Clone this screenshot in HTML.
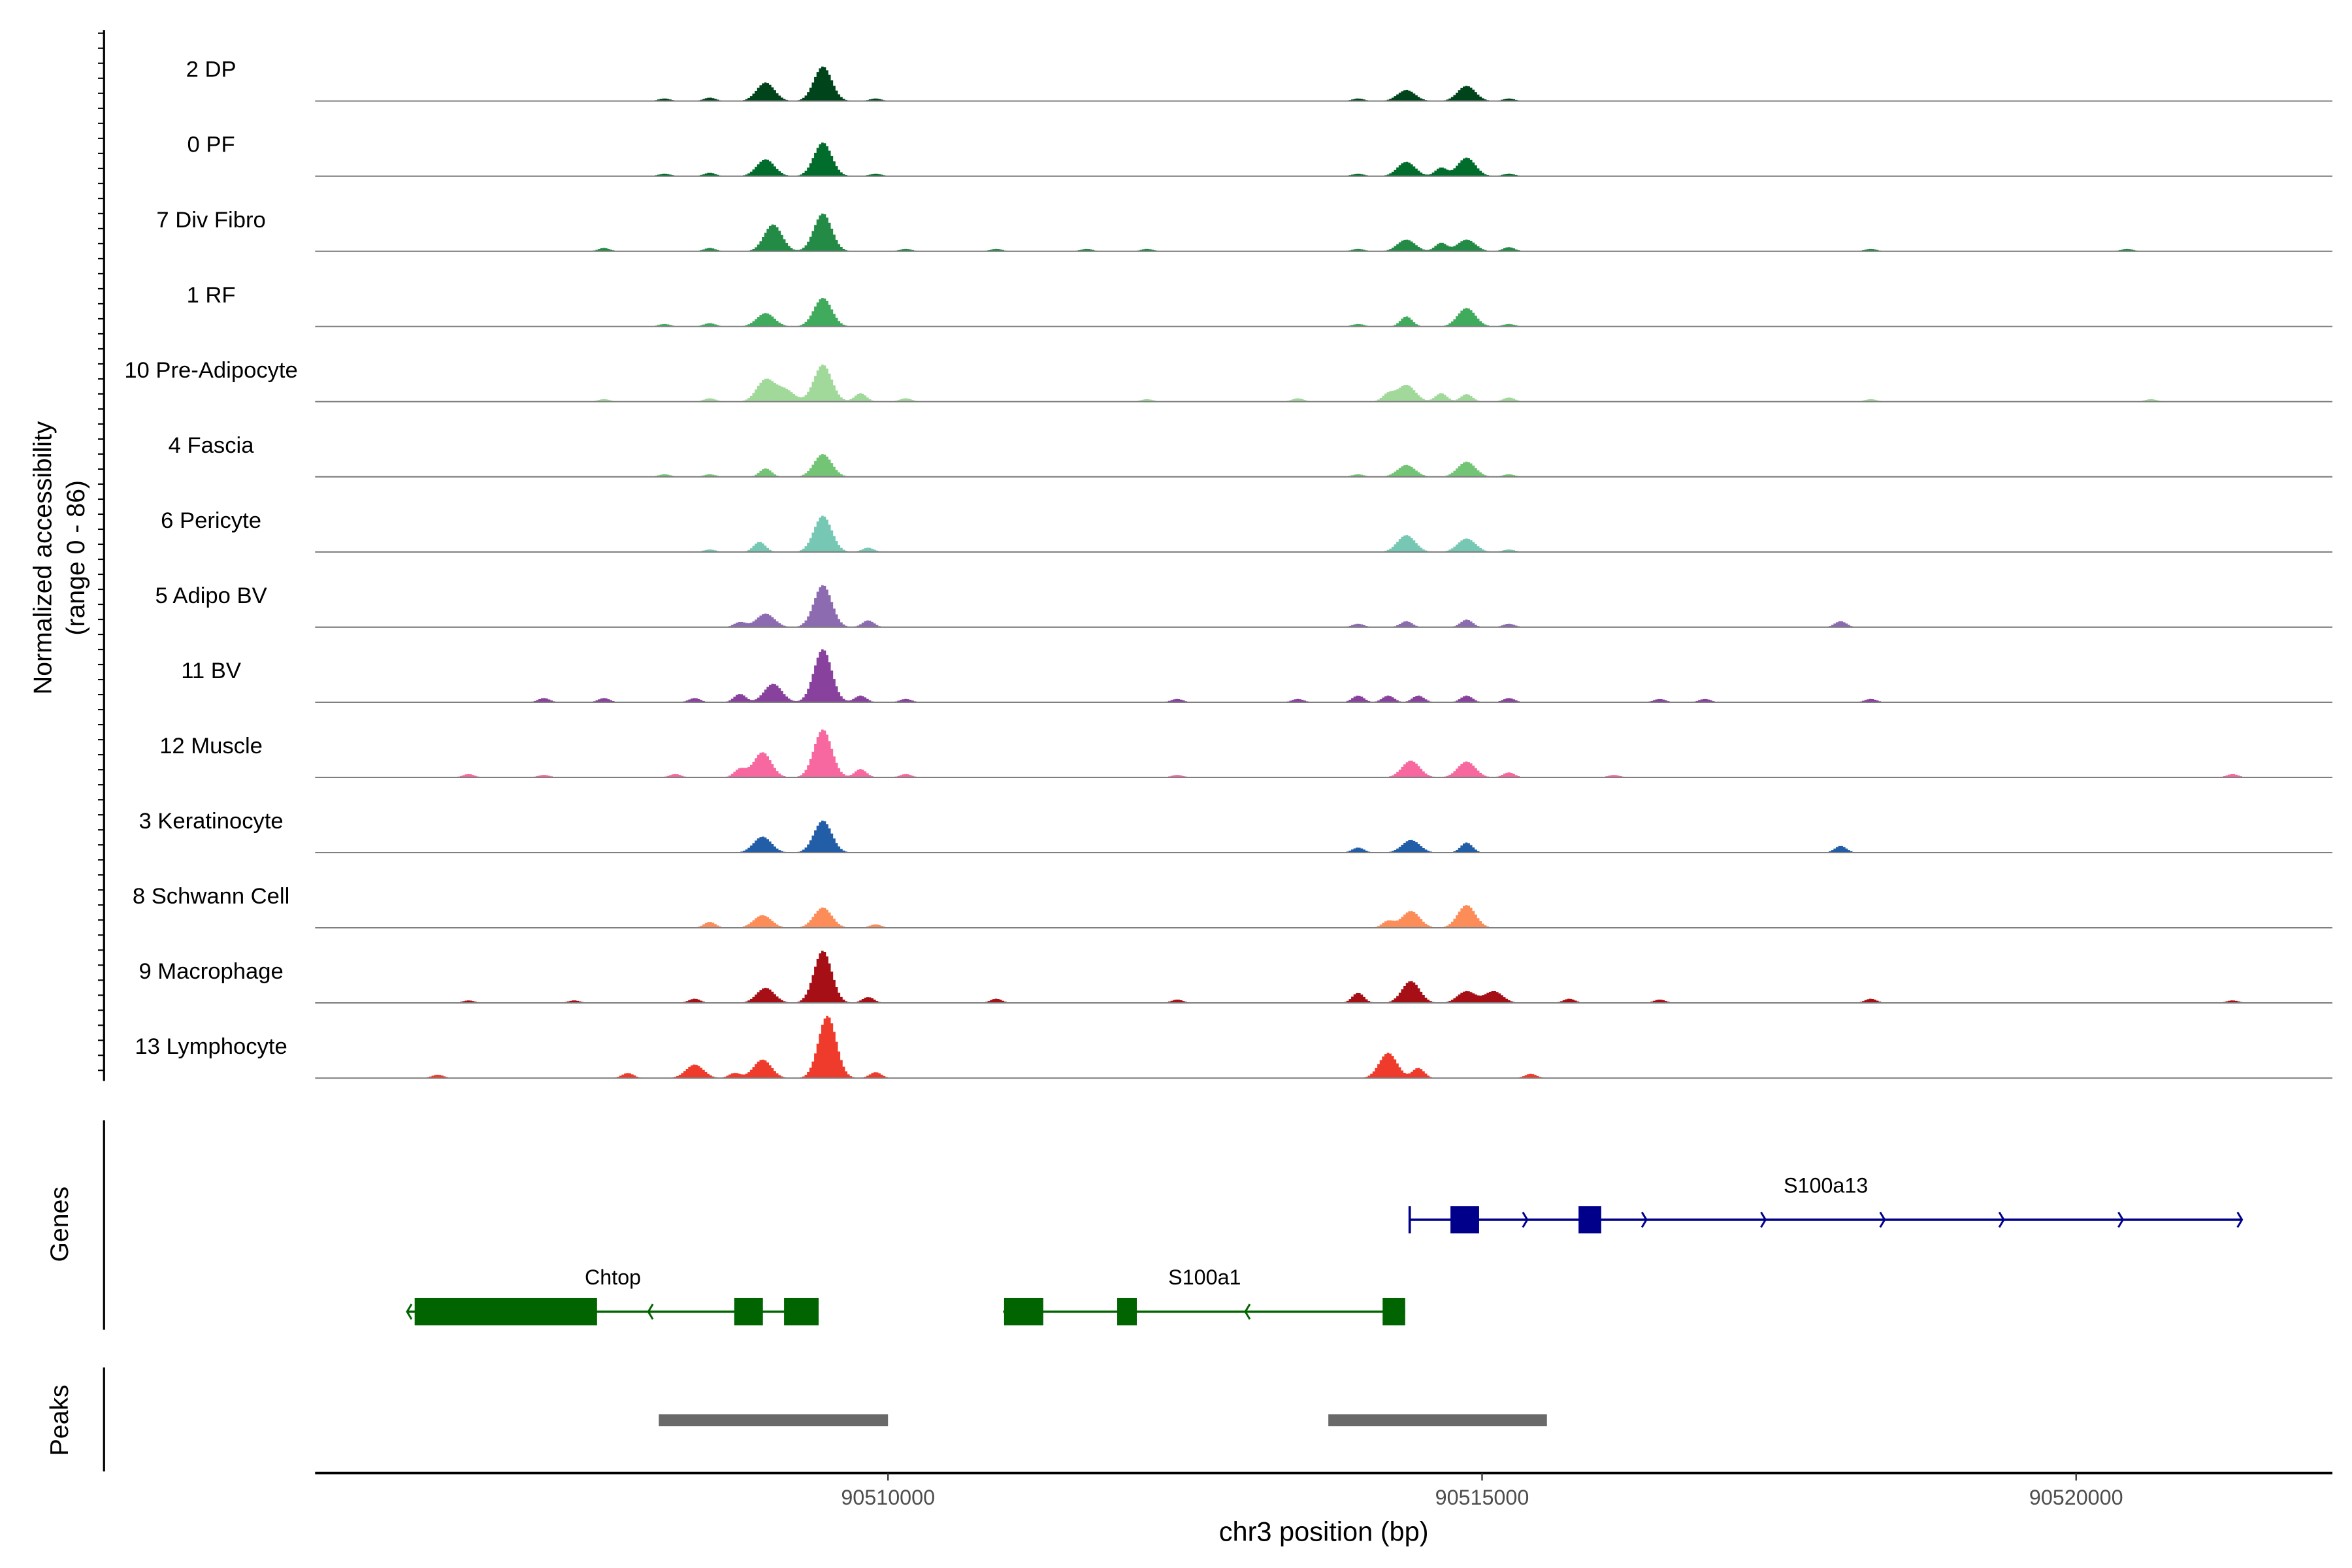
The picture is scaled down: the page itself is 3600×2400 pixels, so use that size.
<!DOCTYPE html>
<html><head><meta charset="utf-8"><style>html,body{margin:0;padding:0;background:#fff}svg{display:block}text{font-family:"Liberation Sans",sans-serif}</style></head>
<body>
<svg id="chart" xmlns="http://www.w3.org/2000/svg" width="3600" height="2400" viewBox="0 0 1560 1040">
<rect width="1560" height="1040" fill="#fff"/>
<g id="tracks"></g>
<g id="genes"></g>
<g id="peaks"></g>
<g id="axes"></g>
</svg>
<script>
const trackNames=["2 DP","0 PF","7 Div Fibro","1 RF","10 Pre-Adipocyte","4 Fascia","6 Pericyte","5 Adipo BV","11 BV","12 Muscle","3 Keratinocyte","8 Schwann Cell","9 Macrophage","13 Lymphocyte"];
const trackColors=["#00441b","#006d2c","#238b45","#41ab5d","#a1d99b","#74c476","#76c8b4","#8c6bb1","#88419d","#f768a1","#225ea8","#fc8d59","#a50f15","#ef3b2c"];
const pos2DP=[90508109,90508490,90508960,90509442,90509886,90513947,90514353,90514860,90515216];
const val2DP=[3,4,22,41,3,3,13,18,3];
const pos0PF=[90508109,90508490,90508960,90509442,90509886,90513947,90514353,90514645,90514860,90515216];
const val0PF=[3,4,20,40,3,3,17,10,22,3];
const posDiv=[90507600,90508490,90509023,90509442,90510140,90510901,90511663,90512170,90513947,90514353,90514645,90514860,90515216,90518262,90520420];
const valDiv=[4,4,32,45,3,3,3,3,3,14,10,14,5,3,3];
const posRF=[90508109,90508490,90508960,90509442,90513947,90514353,90514860,90515216];
const valRF=[3,4,16,34,3,12,22,3];
const posPre=[90507600,90508490,90508960,90509125,90509442,90509759,90510140,90512170,90513440,90514200,90514353,90514645,90514860,90515216,90518262,90520620];
const valPre=[3,4,26,14,44,10,4,3,4,9,20,10,9,5,3,3];
const posFas=[90508109,90508490,90508960,90509442,90513947,90514353,90514860,90515216];
const valFas=[3,3,10,27,3,14,18,3];
const posPer=[90508490,90508909,90509442,90509823,90514353,90514860,90515216];
const valPer=[3,12,43,5,20,16,3];
const posABV=[90508744,90508960,90509442,90509823,90513947,90514353,90514860,90515216,90518008];
const valABV=[6,16,50,8,4,7,9,4,7];
const posBV=[90507094,90507600,90508363,90508744,90509023,90509442,90509759,90510140,90512424,90513440,90513947,90514200,90514454,90514860,90515216,90516485,90516866,90518262];
const valBV=[5,5,5,10,22,63,8,4,4,4,8,8,8,8,5,4,4,4];
const posMus=[90506460,90507094,90508200,90508744,90508934,90509442,90509759,90510140,90512424,90514391,90514860,90515216,90516100,90521307];
const valMus=[4,3,4,10,30,57,10,4,3,20,19,6,3,4];
const posKer=[90508934,90509442,90513947,90514391,90514860,90518008];
const valKer=[19,38,6,15,12,8];
const posSch=[90508490,90508934,90509442,90509886,90514200,90514391,90514860];
const valSch=[7,15,24,4,8,20,27];
const posMac=[90506460,90507348,90508363,90508960,90509442,90509823,90510901,90512424,90513947,90514391,90514860,90515089,90515724,90516485,90518262,90521307];
const valMac=[3,3,5,18,62,7,5,4,12,26,14,14,5,4,5,3];
const posLym=[90506200,90507800,90508363,90508700,90508934,90509480,90509886,90514200,90514454,90515400];
const valLym=[4,6,16,6,22,74,7,30,12,5];
const trackPos=[pos2DP,pos0PF,posDiv,posRF,posPre,posFas,posPer,posABV,posBV,posMus,posKer,posSch,posMac,posLym];
const trackVal=[val2DP,val0PF,valDiv,valRF,valPre,valFas,valPer,valABV,valBV,valMus,valKer,valSch,valMac,valLym];
const xTicks=[90510000,90515000,90520000];
const geneNames=["Chtop","S100a1","S100a13"];
const geneStart=[90505952,90510977,90514391];
const geneEnd=[90509416,90514353,90521396];
const geneStrand=[-1,-1,1];
const geneExonStart=[[90506016,90508706,90509125],[90510977,90511929,90514163],[90514734,90515812]];
const geneExonEnd=[[90507551,90508947,90509416],[90511307,90512094,90514353],[90514975,90516003]];
const peakStart=[90508071,90513706];
const peakEnd=[90510000,90515546];

const NS="http://www.w3.org/2000/svg";
const X0=209,X1=1547,BP0=90505178,BP1=90522157;
const xs=bp=>X0+(bp-BP0)/(BP1-BP0)*(X1-X0);
const ys=v=>v*48/86;
function mk(tag,attrs,parent){const e=document.createElementNS(NS,tag);for(const k in attrs)e.setAttribute(k,attrs[k]);parent.appendChild(e);return e;}
const gT=document.getElementById('tracks');
for(let t=0;t<trackNames.length;t++){
  const base=67+t*49.85;
  const g=mk('g',{},gT);
  
  
  let d='M'+X0+' '+base;
  for(let bp=BP0;bp<=BP1;bp+=20){
    let v=0;
    for(let i=0;i<trackPos[t].length;i++){const s=trackVal[t][i]>12?75:50;const z=(bp-trackPos[t][i])/s;v+=trackVal[t][i]*Math.exp(-0.5*z*z);}
    if(v<0.6)v=0;
    d+=' L'+xs(bp).toFixed(2)+' '+(base-ys(v)).toFixed(2)+' L'+xs(bp+20).toFixed(2)+' '+(base-ys(v)).toFixed(2);
  }
  d+=' L'+X1+' '+base+' Z';
  const a=mk('path',{d:d,fill:trackColors[t]},g);
  
  
  const l=mk('line',{x1:X0,x2:X1,y1:base,y2:base,stroke:'#7f7f7f','stroke-width':0.9},g);
  
  
  const tx=mk('text',{x:140,y:base-16,'font-size':15,'text-anchor':'middle',fill:'#000'},g);
  tx.textContent=trackNames[t];
  
  
}
const gG=document.getElementById('genes');
const geneRowY=[870,870,809];
const geneCol=["#006400","#006400","#00008b"];
for(let i=0;i<geneNames.length;i++){
  const y=geneRowY[i],c=geneCol[i];
  const g=mk('g',{},gG);
  
  
  mk('line',{x1:xs(geneStart[i]),x2:xs(geneEnd[i]),y1:y,y2:y,stroke:c,'stroke-width':1.6},g);
  const x1=xs(geneStart[i]),x2=xs(geneEnd[i]);
  const step=79;
  if(geneStrand[i]>0){for(let x=x2;x>x1+10;x-=step){mk('path',{d:`M${x-3} ${y-5} L${x} ${y} L${x-3} ${y+5}`,stroke:c,fill:'none','stroke-width':1.3},g);}
    mk('line',{x1:x1,x2:x1,y1:y-9,y2:y+9,stroke:c,'stroke-width':1.6},g);}
  else{for(let x=x1;x<x2-10;x+=160){mk('path',{d:`M${x+3} ${y-5} L${x} ${y} L${x+3} ${y+5}`,stroke:c,fill:'none','stroke-width':1.3},g);}}
  for(let k=0;k<geneExonStart[i].length;k++){
    const r=mk('rect',{x:xs(geneExonStart[i][k]),y:y-9,width:xs(geneExonEnd[i][k])-xs(geneExonStart[i][k]),height:18,fill:c},g);
    
    
  }
  const lt=mk('text',{x:(i==2?1211:(x1+x2)/2),y:y-18,'font-size':14,'text-anchor':'middle',fill:'#000'},g);
  lt.textContent=geneNames[i];
  
  
}
const gP=document.getElementById('peaks');
for(let i=0;i<peakStart.length;i++){
  const r=mk('rect',{x:xs(peakStart[i]),y:938,width:xs(peakEnd[i])-xs(peakStart[i]),height:8,fill:'#696969'},gP);
  
  
}
const gA=document.getElementById('axes');
mk('line',{x1:69,x2:69,y1:20,y2:717,stroke:'#000','stroke-width':1.4},gA);
for(let y=22;y<=716;y+=9.97){mk('line',{x1:65,x2:69,y1:y,y2:y,stroke:'#000','stroke-width':0.9},gA);}
mk('line',{x1:69,x2:69,y1:743,y2:882,stroke:'#000','stroke-width':1.4},gA);
mk('line',{x1:69,x2:69,y1:907,y2:976,stroke:'#000','stroke-width':1.4},gA);
mk('line',{x1:X0,x2:X1,y1:977,y2:977,stroke:'#000','stroke-width':1.6},gA);
for(const t of xTicks){
  mk('line',{x1:xs(t),x2:xs(t),y1:977,y2:982,stroke:'#333','stroke-width':1},gA);
  const tx=mk('text',{x:xs(t),y:998,'font-size':14,'text-anchor':'middle',fill:'#4d4d4d'},gA);
  tx.textContent=t;
  
  
}
function rt(txt,x,y,fs,name){const e=mk('text',{x:0,y:0,'font-size':fs,'text-anchor':'middle',transform:`translate(${x},${y}) rotate(-90)`,fill:'#000'},gA);e.textContent=txt;}
rt('Normalized accessibility',34,370,17,'y-axis-title');
rt('(range 0 - 86)',56,370,17,'y-axis-range');
rt('Genes',45,812,17,'genes-axis-title');
rt('Peaks',45,942,17,'peaks-axis-title');
const xt=mk('text',{x:878,y:1022,'font-size':18,'text-anchor':'middle',fill:'#000'},gA);
xt.textContent='chr3 position (bp)';


</script>
</body></html>
